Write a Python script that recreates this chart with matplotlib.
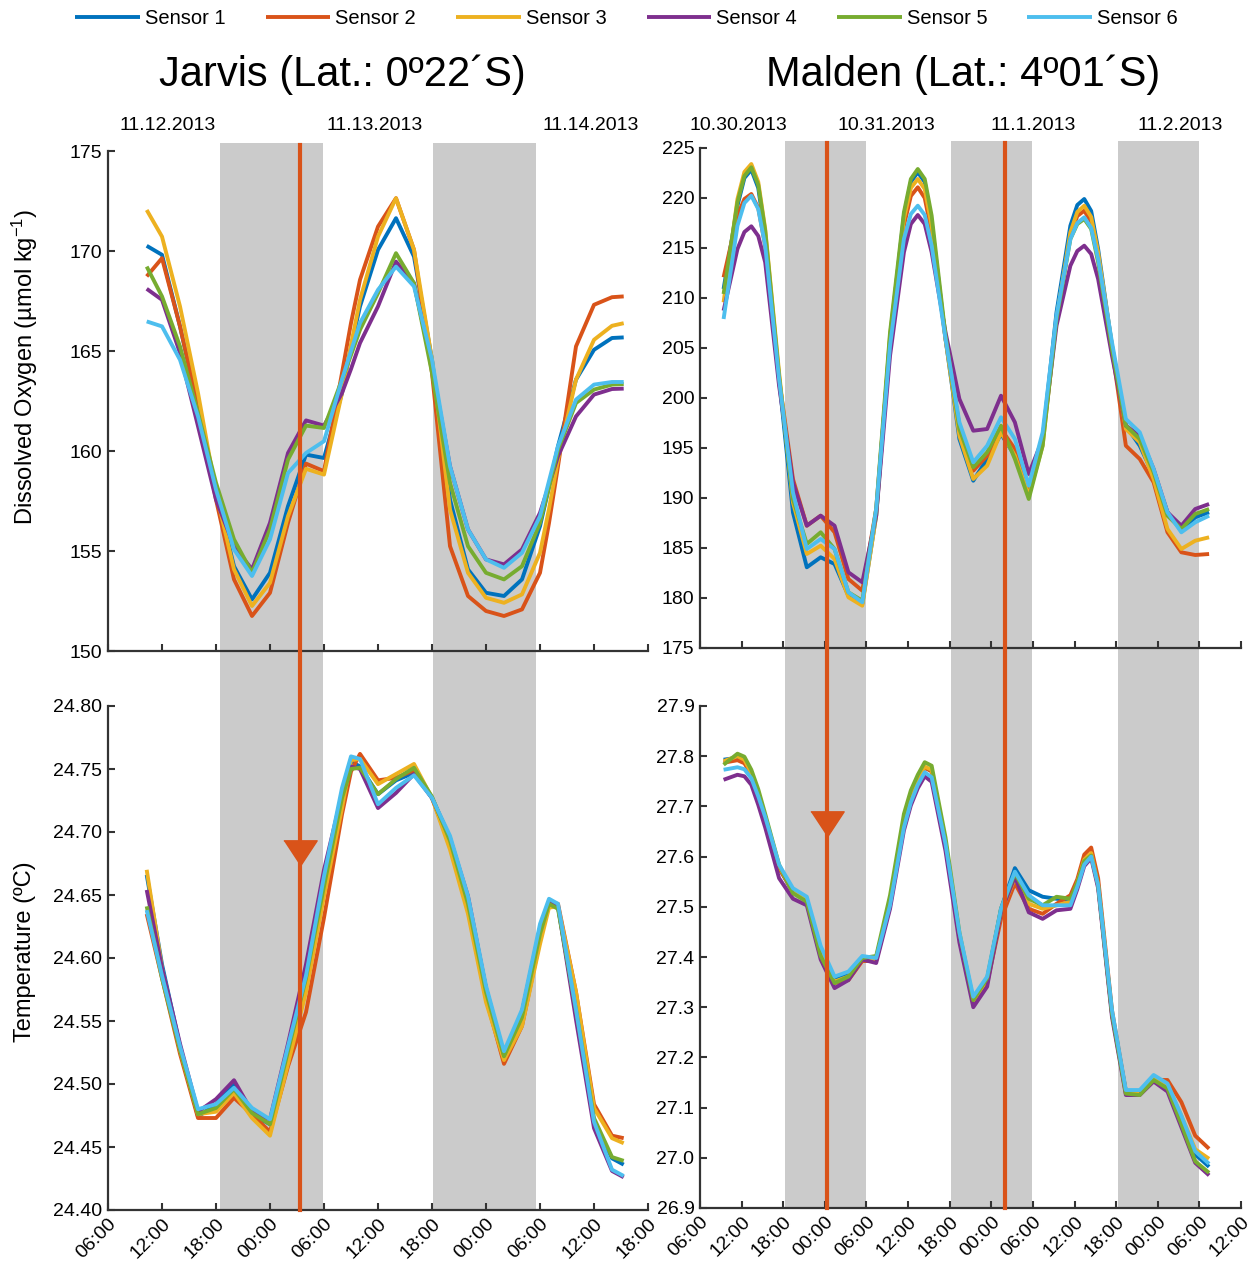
import numpy as np
import matplotlib.pyplot as plt
from matplotlib.lines import Line2D
from matplotlib.patches import Rectangle
from matplotlib.ticker import FormatStrFormatter
from matplotlib.transforms import blended_transform_factory

plt.rcParams['font.family'] = ['Liberation Sans', 'DejaVu Sans']
plt.rcParams['mathtext.default'] = 'regular'

sensors = ['Sensor 1', 'Sensor 2', 'Sensor 3', 'Sensor 4', 'Sensor 5', 'Sensor 6']
colors = ['#0072BD', '#D95319', '#EDB120', '#7E2F8E', '#77AC30', '#4DBEEE']

# ---- Jarvis: hours since 00:00 on 11.12.2013 ----
jarvis_hours = [10.3, 12, 14, 16, 18, 20, 22, 24, 26, 28, 30, 32, 33, 34, 36, 38,
                40, 42, 44, 46, 48, 50, 52, 54, 55, 56, 58, 60, 62, 63.3]

jarvis_do_1 = [170.26, 169.81, 166.23, 162.23, 157.91, 154.24, 152.58, 153.91, 157.24, 159.82,
               159.65, 162.90, 165.2, 167.23, 170.06, 171.64, 169.72, 164.56, 157.57, 154.08,
               152.91, 152.75, 153.58, 156.24, 158.2, 160.24, 163.57, 165.06, 165.65, 165.68]
jarvis_do_2 = [168.73, 169.64, 166.23, 162.23, 157.57, 153.58, 151.75, 152.91, 156.41, 159.37,
               158.99, 163.90, 166.4, 168.56, 171.22, 172.64, 170.06, 163.90, 155.24, 152.75,
               152.00, 151.75, 152.08, 153.91, 156.4, 159.24, 165.23, 167.31, 167.69, 167.73]
jarvis_do_3 = [172.05, 170.72, 167.23, 162.90, 157.91, 154.08, 152.25, 153.41, 156.74, 159.11,
               158.82, 162.90, 165.3, 167.56, 170.72, 172.64, 170.06, 164.56, 157.07, 153.91,
               152.66, 152.41, 152.83, 154.91, 157.1, 159.57, 163.57, 165.56, 166.26, 166.39]
jarvis_do_4 = [168.11, 167.56, 164.90, 161.24, 157.57, 155.24, 154.08, 156.41, 159.90, 161.53,
               161.27, 162.90, 164.1, 165.40, 167.23, 169.47, 168.39, 164.23, 159.24, 156.08,
               154.58, 154.33, 155.08, 156.91, 158.3, 159.74, 161.73, 162.82, 163.10, 163.12]
jarvis_do_5 = [169.22, 167.73, 165.23, 161.90, 158.41, 155.58, 153.91, 156.08, 159.57, 161.27,
               161.15, 163.57, 164.8, 166.06, 167.89, 169.89, 168.39, 163.90, 158.41, 155.24,
               153.91, 153.58, 154.24, 156.41, 158.2, 160.07, 162.40, 163.07, 163.32, 163.35]
jarvis_do_6 = [166.48, 166.23, 164.56, 161.73, 158.07, 155.08, 153.75, 155.58, 158.90, 159.90,
               160.49, 163.57, 165.0, 166.40, 168.06, 169.22, 168.23, 164.56, 159.24, 156.08,
               154.58, 154.16, 154.91, 156.74, 158.5, 160.24, 162.57, 163.32, 163.45, 163.45]

jarvis_temp_1 = [24.666, 24.595, 24.530, 24.474, 24.484, 24.500, 24.476, 24.468, 24.524, 24.584,
                 24.659, 24.730, 24.756, 24.752, 24.730, 24.741, 24.747, 24.727, 24.695, 24.646,
                 24.576, 24.523, 24.557, 24.622, 24.645, 24.641, 24.557, 24.470, 24.441, 24.436]
jarvis_temp_2 = [24.635, 24.584, 24.524, 24.473, 24.473, 24.489, 24.476, 24.462, 24.514, 24.557,
                 24.632, 24.714, 24.748, 24.762, 24.741, 24.743, 24.749, 24.727, 24.689, 24.638,
                 24.568, 24.516, 24.546, 24.614, 24.644, 24.643, 24.573, 24.484, 24.459, 24.457]
jarvis_temp_3 = [24.670, 24.592, 24.527, 24.476, 24.478, 24.493, 24.473, 24.459, 24.516, 24.573,
                 24.649, 24.719, 24.757, 24.758, 24.738, 24.746, 24.754, 24.727, 24.686, 24.635,
                 24.565, 24.519, 24.546, 24.611, 24.640, 24.641, 24.573, 24.481, 24.457, 24.453]
jarvis_temp_4 = [24.654, 24.592, 24.532, 24.478, 24.488, 24.503, 24.478, 24.472, 24.532, 24.595,
                 24.670, 24.730, 24.752, 24.750, 24.719, 24.731, 24.746, 24.727, 24.695, 24.649,
                 24.576, 24.523, 24.557, 24.624, 24.645, 24.641, 24.551, 24.465, 24.431, 24.426]
jarvis_temp_5 = [24.641, 24.584, 24.527, 24.476, 24.481, 24.496, 24.477, 24.468, 24.526, 24.584,
                 24.657, 24.727, 24.750, 24.751, 24.730, 24.742, 24.751, 24.728, 24.693, 24.643,
                 24.573, 24.522, 24.553, 24.619, 24.643, 24.639, 24.559, 24.473, 24.442, 24.439]
jarvis_temp_6 = [24.638, 24.586, 24.530, 24.480, 24.484, 24.497, 24.481, 24.472, 24.530, 24.586,
                 24.665, 24.735, 24.760, 24.758, 24.722, 24.735, 24.745, 24.727, 24.697, 24.649,
                 24.578, 24.526, 24.559, 24.627, 24.647, 24.643, 24.559, 24.470, 24.432, 24.427]

# ---- Malden: hours since 00:00 on 10.30.2013 ----
malden_hours = [9.4, 11.4, 12.4, 13.4, 14.4, 15.4, 17.4, 19.4, 21.4, 23.4, 25.4, 27.4, 29.4, 31.4,
                33.4, 35.4, 36.4, 37.4, 38.4, 39.4, 41.4, 43.4, 45.4, 47.4, 49.4, 51.4, 53.4, 55.4,
                57.4, 59.4, 60.4, 61.4, 62.4, 63.4, 65.4, 67.4, 69.4, 71.4, 73.4, 75.4, 77.4, 79.4]

malden_do_1 = [210.9, 219.23, 222.0, 222.83, 221.0, 216.23, 201.9, 188.57, 183.07, 184.07, 183.4,
               180.23, 179.4, 188.23, 205.9, 218.23, 221.6, 222.57, 221.6, 217.57, 205.9, 195.9,
               191.73, 193.9, 196.4, 194.23, 190.73, 195.9, 208.57, 217.23, 219.3, 219.9, 218.7,
               214.9, 205.23, 197.23, 195.23, 192.23, 188.57, 186.73, 188.07, 188.57]
malden_do_2 = [212.07, 218.23, 219.9, 220.4, 219.0, 215.23, 201.9, 191.9, 187.23, 188.23, 186.57,
               181.9, 180.73, 188.9, 205.57, 217.23, 220.2, 221.07, 220.0, 216.57, 205.9, 197.23,
               192.73, 194.23, 196.9, 194.9, 190.9, 195.9, 207.9, 216.23, 218.2, 218.73, 217.6,
               214.23, 204.9, 195.23, 193.9, 191.57, 186.57, 184.57, 184.3, 184.4]
malden_do_3 = [209.57, 219.9, 222.6, 223.4, 221.6, 216.9, 202.57, 189.57, 184.4, 185.23, 183.9,
               180.07, 179.23, 188.23, 206.23, 217.9, 221.0, 221.9, 220.9, 217.23, 205.9, 196.23,
               191.9, 193.23, 196.57, 194.23, 190.23, 195.23, 207.9, 216.57, 218.6, 219.23, 218.1,
               214.57, 205.23, 196.9, 195.57, 191.9, 186.9, 184.9, 185.73, 186.07]
malden_do_4 = [208.73, 214.9, 216.6, 217.17, 216.2, 213.57, 201.23, 191.57, 187.23, 188.23, 187.23,
               182.57, 181.57, 188.23, 204.23, 214.57, 217.4, 218.3, 217.4, 214.57, 206.57, 199.9,
               196.73, 196.9, 200.23, 197.57, 192.4, 195.9, 207.23, 213.23, 214.7, 215.23, 214.4,
               211.9, 204.23, 197.23, 196.23, 192.9, 188.57, 187.23, 188.9, 189.4]
malden_do_5 = [210.4, 219.57, 222.2, 223.07, 221.3, 216.73, 202.23, 189.9, 185.4, 186.57, 184.9,
               180.57, 179.73, 188.9, 206.57, 218.57, 221.9, 222.9, 221.9, 218.23, 206.23, 196.9,
               193.07, 194.57, 197.23, 193.9, 189.9, 195.23, 207.9, 215.9, 217.4, 217.9, 216.9,
               213.57, 204.9, 197.23, 195.9, 192.57, 188.23, 186.9, 188.4, 188.9]
malden_do_6 = [207.9, 217.23, 219.5, 220.23, 218.9, 215.23, 201.9, 190.57, 184.9, 185.9, 184.9,
               180.57, 179.57, 188.9, 205.23, 215.9, 218.4, 219.23, 218.3, 215.23, 205.9, 197.57,
               193.57, 195.23, 198.07, 195.9, 191.23, 196.57, 208.23, 215.9, 217.5, 218.07, 217.0,
               213.9, 205.57, 197.9, 196.57, 192.9, 188.57, 186.57, 187.57, 188.23]

malden_temp_1 = [27.793, 27.797, 27.790, 27.766, 27.727, 27.679, 27.577, 27.530, 27.513, 27.408, 27.354,
                 27.365, 27.398, 27.398, 27.510, 27.665, 27.718, 27.753, 27.778, 27.770, 27.625, 27.442,
                 27.311, 27.354, 27.496, 27.577, 27.533, 27.520, 27.516, 27.513, 27.545, 27.591, 27.602,
                 27.543, 27.287, 27.132, 27.132, 27.159, 27.142, 27.078, 27.007, 26.982]
malden_temp_2 = [27.787, 27.792, 27.786, 27.763, 27.724, 27.679, 27.577, 27.530, 27.513, 27.405, 27.348,
                 27.354, 27.392, 27.392, 27.503, 27.665, 27.718, 27.753, 27.777, 27.770, 27.625, 27.442,
                 27.311, 27.348, 27.476, 27.547, 27.496, 27.486, 27.506, 27.523, 27.555, 27.604, 27.618,
                 27.557, 27.294, 27.132, 27.128, 27.155, 27.155, 27.111, 27.044, 27.018]
malden_temp_3 = [27.790, 27.800, 27.793, 27.766, 27.727, 27.679, 27.581, 27.530, 27.513, 27.408, 27.351,
                 27.361, 27.395, 27.395, 27.510, 27.672, 27.722, 27.756, 27.779, 27.773, 27.628, 27.442,
                 27.311, 27.354, 27.489, 27.557, 27.506, 27.496, 27.503, 27.510, 27.548, 27.594, 27.607,
                 27.543, 27.287, 27.128, 27.128, 27.159, 27.145, 27.084, 27.017, 26.998]
malden_temp_4 = [27.753, 27.763, 27.760, 27.743, 27.703, 27.658, 27.557, 27.516, 27.503, 27.395, 27.338,
                 27.354, 27.395, 27.388, 27.496, 27.652, 27.702, 27.736, 27.760, 27.749, 27.611, 27.429,
                 27.300, 27.341, 27.489, 27.560, 27.489, 27.476, 27.493, 27.496, 27.535, 27.581, 27.597,
                 27.537, 27.280, 27.125, 27.125, 27.152, 27.132, 27.061, 26.990, 26.965]
malden_temp_5 = [27.783, 27.805, 27.799, 27.773, 27.734, 27.685, 27.584, 27.527, 27.510, 27.402, 27.348,
                 27.361, 27.398, 27.402, 27.523, 27.685, 27.732, 27.763, 27.788, 27.781, 27.638, 27.449,
                 27.314, 27.358, 27.496, 27.567, 27.516, 27.503, 27.520, 27.516, 27.548, 27.591, 27.602,
                 27.543, 27.287, 27.128, 27.125, 27.155, 27.138, 27.067, 26.993, 26.970]
malden_temp_6 = [27.773, 27.778, 27.774, 27.756, 27.720, 27.679, 27.584, 27.537, 27.520, 27.422, 27.361,
                 27.371, 27.402, 27.398, 27.503, 27.658, 27.708, 27.743, 27.768, 27.758, 27.625, 27.449,
                 27.321, 27.361, 27.496, 27.570, 27.523, 27.503, 27.503, 27.503, 27.540, 27.584, 27.600,
                 27.543, 27.294, 27.135, 27.135, 27.165, 27.148, 27.084, 27.013, 26.988]

jarvis_oxygen = [jarvis_do_1, jarvis_do_2, jarvis_do_3, jarvis_do_4, jarvis_do_5, jarvis_do_6]
jarvis_temp = [jarvis_temp_1, jarvis_temp_2, jarvis_temp_3, jarvis_temp_4, jarvis_temp_5, jarvis_temp_6]
malden_oxygen = [malden_do_1, malden_do_2, malden_do_3, malden_do_4, malden_do_5, malden_do_6]
malden_temp = [malden_temp_1, malden_temp_2, malden_temp_3, malden_temp_4, malden_temp_5, malden_temp_6]

# night periods and sampling events (hours)
jarvis_nights = [(18.4, 29.9), (42.1, 53.6)]
malden_nights = [(18.3, 30.0), (42.2, 53.9), (66.2, 77.9)]
jarvis_events = [27.3]
malden_events = [24.35, 50.0]
jarvis_arrow = (27.3, 24.683)
malden_arrow = (24.35, 27.665)

jarvis_dates = ['11.12.2013', '11.13.2013', '11.14.2013']
jarvis_date_pos = [12.6, 35.6, 59.6]
malden_dates = ['10.30.2013', '10.31.2013', '11.1.2013', '11.2.2013']
malden_date_pos = [11.5, 32.8, 54.0, 75.3]

W, H = 1253, 1266
fig = plt.figure(figsize=(W / 100, H / 100), dpi=100)


def px_axes(x0, x1, y0, y1):
    return fig.add_axes([x0 / W, 1 - y1 / H, (x1 - x0) / W, (y1 - y0) / H])


ax_jo = px_axes(108, 648, 151, 651)
ax_jt = px_axes(108, 648, 706, 1210)
ax_mo = px_axes(700, 1241, 148, 648)
ax_mt = px_axes(700, 1241, 706, 1208)

spine_col = '#333333'
red = '#D95319'
gray = '#cbcbcb'
tri = [(-1, 0.76), (1, 0.76), (0, -0.76)]


def style(ax, xmax, ylim, yticks, fmt, show_x):
    ax.set_facecolor('none')
    ax.set_xlim(6, xmax)
    ax.set_ylim(*ylim)
    ax.set_yticks(yticks)
    ax.yaxis.set_major_formatter(FormatStrFormatter(fmt))
    xt = np.arange(6, xmax + 1, 6)
    ax.set_xticks(xt)
    ax.set_xticklabels(['%02d:00' % (h % 24) for h in xt])
    for s in ['top', 'right']:
        ax.spines[s].set_visible(False)
    for s in ['left', 'bottom']:
        ax.spines[s].set_linewidth(1.6)
        ax.spines[s].set_color(spine_col)
    ax.tick_params(direction='in', length=5, width=1.5, color=spine_col,
                   labelsize=14, pad=4)
    if show_x:
        plt.setp(ax.get_xticklabels(), rotation=45, ha='right', va='top',
                 rotation_mode='anchor')
    else:
        ax.tick_params(axis='x', labelbottom=False)


style(ax_jo, 66, (150, 175), np.arange(150, 176, 5), '%d', False)
style(ax_jt, 66, (24.40, 24.80), np.arange(24.40, 24.801, 0.05), '%.2f', True)
style(ax_mo, 84, (175, 225), np.arange(175, 226, 5), '%d', False)
style(ax_mt, 84, (26.9, 27.9), np.arange(26.9, 27.91, 0.1), '%.1f', True)

for ax, hours, series in [(ax_jo, jarvis_hours, jarvis_oxygen), (ax_jt, jarvis_hours, jarvis_temp),
                          (ax_mo, malden_hours, malden_oxygen), (ax_mt, malden_hours, malden_temp)]:
    for vals, c, name in zip(series, colors, sensors):
        ax.plot(hours, vals, color=c, lw=2.8, label=name,
                solid_joinstyle='round', solid_capstyle='butt')

# night shading and event lines spanning both panels of each column
for ax_top, nights, events, top, bottom in [(ax_jo, jarvis_nights, jarvis_events, 143, 1210),
                                            (ax_mo, malden_nights, malden_events, 141, 1208)]:
    trans = blended_transform_factory(ax_top.transData, fig.transFigure)
    yb, yt = 1 - bottom / H, 1 - top / H
    for x0, x1 in nights:
        fig.add_artist(Rectangle((x0, yb), x1 - x0, yt - yb, transform=trans,
                                 facecolor=gray, edgecolor='none', zorder=-1))
    for x in events:
        fig.add_artist(Line2D([x, x], [yb, 1 - (top + 2) / H], transform=trans,
                              color=red, lw=3, zorder=5))

for ax, (x, y) in [(ax_jt, jarvis_arrow), (ax_mt, malden_arrow)]:
    ax.plot([x], [y], marker=tri, markersize=24, color=red, zorder=6, clip_on=False)

# titles, dates and axis labels
fig.text(342 / W, 1 - 75 / H, 'Jarvis (Lat.: 0º22´S)', fontsize=30, ha='center', va='center')
fig.text(963 / W, 1 - 75 / H, 'Malden (Lat.: 4º01´S)', fontsize=30, ha='center', va='center')

for ax, labels, pos, top in [(ax_jo, jarvis_dates, jarvis_date_pos, 151),
                             (ax_mo, malden_dates, malden_date_pos, 148)]:
    tr = blended_transform_factory(ax.transData, ax.transAxes)
    for lab, x in zip(labels, pos):
        ax.text(x, 1 + (top - 125) / 500, lab, transform=tr, fontsize=14,
                ha='center', va='center')

fig.text(25 / W, 1 - 367 / H, 'Dissolved Oxygen (µmol kg$^{-1}$)', rotation=90,
         fontsize=17, ha='center', va='center')
fig.text(25 / W, 1 - 952 / H, 'Temperature (ºC)', rotation=90,
         fontsize=17, ha='center', va='center')

handles = ax_jo.get_lines()[:6]
fig.legend(handles, sensors, loc='center', bbox_to_anchor=(0.5, 1 - 19 / H), ncol=6,
           frameon=False, fontsize=14.5, handlelength=3.2, handletextpad=0.25,
           columnspacing=2.0)

fig.savefig('out.png', dpi=100, facecolor='white')
